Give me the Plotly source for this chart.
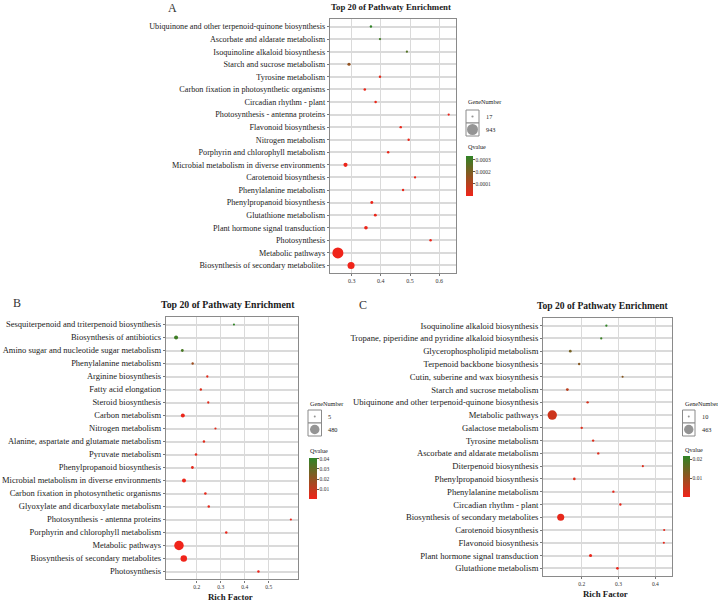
import math
import plotly.graph_objects as go

W, H = 718, 604

# ---------------- Panel A ----------------
a_pathways = [
    "Ubiquinone and other terpenoid-quinone biosynthesis",
    "Ascorbate and aldarate metabolism",
    "Isoquinoline alkaloid biosynthesis",
    "Starch and sucrose metabolism",
    "Tyrosine metabolism",
    "Carbon fixation in photosynthetic organisms",
    "Circadian rhythm - plant",
    "Photosynthesis - antenna proteins",
    "Flavonoid biosynthesis",
    "Nitrogen metabolism",
    "Porphyrin and chlorophyll metabolism",
    "Microbial metabolism in diverse environments",
    "Carotenoid biosynthesis",
    "Phenylalanine metabolism",
    "Phenylpropanoid biosynthesis",
    "Glutathione metabolism",
    "Plant hormone signal transduction",
    "Photosynthesis",
    "Metabolic pathways",
    "Biosynthesis of secondary metabolites",
]
a_rich = [0.366, 0.397, 0.489, 0.291, 0.397, 0.345, 0.382, 0.632, 0.468, 0.495,
          0.425, 0.279, 0.517, 0.476, 0.369, 0.381, 0.349, 0.570, 0.253, 0.298]
a_genes = [22, 20, 18, 50, 24, 28, 26, 19, 24, 22,
           24, 100, 20, 22, 40, 40, 70, 24, 943, 357]
a_qvalue = [0.00033, 0.00030, 0.00027, 0.00016, 0.00002, 0.00001, 0.00001, 0.000005, 0.00001, 0.00001,
            0.00001, 0.000005, 0.00001, 0.00001, 0.000005, 0.00001, 0.000005, 0.000005, 0.0000001, 0.0000001]
a_xticks = [0.3, 0.4, 0.5, 0.6]
a_size_breaks = [17, 943]
a_q_ticks = [0.0003, 0.0002, 0.0001]
a_q_ticktext = ["0.0003", "0.0002", "0.0001"]

# ---------------- Panel B ----------------
b_pathways = [
    "Sesquiterpenoid and triterpenoid biosynthesis",
    "Biosynthesis of antibiotics",
    "Amino sugar and nucleotide sugar metabolism",
    "Phenylalanine metabolism",
    "Arginine biosynthesis",
    "Fatty acid elongation",
    "Steroid biosynthesis",
    "Carbon metabolism",
    "Nitrogen metabolism",
    "Alanine, aspartate and glutamate metabolism",
    "Pyruvate metabolism",
    "Phenylpropanoid biosynthesis",
    "Microbial metabolism in diverse environments",
    "Carbon fixation in photosynthetic organisms",
    "Glyoxylate and dicarboxylate metabolism",
    "Photosynthesis - antenna proteins",
    "Porphyrin and chlorophyll metabolism",
    "Metabolic pathways",
    "Biosynthesis of secondary metabolites",
    "Photosynthesis",
]
b_rich = [0.355, 0.114, 0.140, 0.183, 0.244, 0.217, 0.248, 0.142, 0.278, 0.230,
          0.197, 0.182, 0.147, 0.236, 0.250, 0.592, 0.323, 0.126, 0.146, 0.457]
b_genes = [6, 56, 18, 10, 9, 10, 9, 56, 8, 12,
           14, 18, 55, 14, 12, 7, 12, 480, 196, 12]
b_qvalue = [0.041, 0.038, 0.036, 0.018, 0.004, 0.005, 0.004, 0.002, 0.004, 0.004,
            0.003, 0.003, 0.002, 0.003, 0.003, 0.002, 0.002, 0.001, 0.001, 0.001]
b_xticks = [0.2, 0.3, 0.4, 0.5]
b_size_breaks = [5, 480]
b_q_ticks = [0.04, 0.03, 0.02, 0.01]
b_q_ticktext = ["0.04", "0.03", "0.02", "0.01"]

# ---------------- Panel C ----------------
c_pathways = [
    "Isoquinoline alkaloid biosynthesis",
    "Tropane, piperidine and pyridine alkaloid biosynthesis",
    "Glycerophospholipid metabolism",
    "Terpenoid backbone biosynthesis",
    "Cutin, suberine and wax biosynthesis",
    "Starch and sucrose metabolism",
    "Ubiquinone and other terpenoid-quinone biosynthesis",
    "Metabolic pathways",
    "Galactose metabolism",
    "Tyrosine metabolism",
    "Ascorbate and aldarate metabolism",
    "Diterpenoid biosynthesis",
    "Phenylpropanoid biosynthesis",
    "Phenylalanine metabolism",
    "Circadian rhythm - plant",
    "Biosynthesis of secondary metabolites",
    "Carotenoid biosynthesis",
    "Flavonoid biosynthesis",
    "Plant hormone signal transduction",
    "Glutathione metabolism",
]
c_rich = [0.267, 0.253, 0.169, 0.193, 0.311, 0.161, 0.216, 0.120, 0.200, 0.231,
          0.245, 0.366, 0.180, 0.286, 0.305, 0.143, 0.424, 0.423, 0.224, 0.297]
c_genes = [14, 14, 24, 16, 12, 26, 16, 463, 16, 16,
           16, 12, 22, 16, 16, 247, 12, 12, 34, 24]
c_qvalue = [0.022, 0.021, 0.014, 0.012, 0.012, 0.006, 0.003, 0.004, 0.002, 0.002,
            0.002, 0.002, 0.002, 0.001, 0.001, 0.001, 0.001, 0.001, 0.0005, 0.0005]
c_xticks = [0.2, 0.3, 0.4]
c_size_breaks = [10, 463]
c_q_ticks = [0.02, 0.01]
c_q_ticktext = ["0.02", "0.01"]

# ---------------- styling helpers ----------------
COLORSCALE = [[0, "rgb(240,36,26)"], [1, "rgb(48,132,38)"]]
SERIF = "Liberation Serif"
TXT = "#1a1a1a"


def px(x):
    return x / W


def py(y):
    return 1 - y / H


def diam(g, breaks, dmin, dmax):
    lo, hi = math.sqrt(breaks[0]), math.sqrt(breaks[1])
    return dmin + (dmax - dmin) * (math.sqrt(g) - lo) / (hi - lo)


panels = [
    dict(p=a_pathways, x=a_rich, g=a_genes, q=a_qvalue, xt=a_xticks, sb=a_size_breaks,
         qt=a_q_ticks, qtt=a_q_ticktext, box=(330, 19, 456, 273), xr=[0.226, 0.657],
         dmin=2.2, dmax=11.0, lab=8.2, tick=6.0, cmin=0.0, cmax=0.00033,
         cb=(466, 156, 7, 40), key=(466, 110, 479, 136), keylab_x=484,
         gn=(466, 102), qv=(466, 147), title=(391, 7, 8.8), letter=("A", 172, 8), rf=None),
    dict(p=b_pathways, x=b_rich, g=b_genes, q=b_qvalue, xt=b_xticks, sb=b_size_breaks,
         qt=b_q_ticks, qtt=b_q_ticktext, box=(166, 316.7, 298.3, 579.3), xr=[0.072, 0.623],
         dmin=2.0, dmax=9.5, lab=8.5, tick=5.5, cmin=0.001, cmax=0.041,
         cb=(309, 457.7, 8, 40.6), key=(308, 410, 321.5, 436), keylab_x=326,
         gn=(308, 403), qv=(308, 450), title=(227.5, 304.3, 9.8), letter=("B", 17, 303),
         rf=(230.5, 597)),
    dict(p=c_pathways, x=c_rich, g=c_genes, q=c_qvalue, xt=c_xticks, sb=c_size_breaks,
         qt=c_q_ticks, qtt=c_q_ticktext, box=(543.3, 318, 672.3, 576), xr=[0.0957, 0.446],
         dmin=2.0, dmax=9.4, lab=8.65, tick=5.5, cmin=0.0, cmax=0.022,
         cb=(683, 455.7, 7, 41), key=(682.5, 410, 695, 436), keylab_x=700,
         gn=(682.5, 403), qv=(682.5, 449), title=(602.7, 305.3, 9.6), letter=("C", 363, 305),
         rf=(605, 594.3)),
]

fig = go.Figure()
annotations = []
shapes = []
layout = {}

for i, P in enumerate(panels):
    n = i + 1
    sfx = "" if n == 1 else str(n)
    ca = "coloraxis" + sfx
    x0, y0, x1, y1 = P["box"]
    sizes = [diam(g, P["sb"], P["dmin"], P["dmax"]) for g in P["g"]]
    fig.add_trace(go.Scatter(
        x=P["x"], y=P["p"], mode="markers",
        xaxis="x" + sfx, yaxis="y" + sfx,
        marker=dict(size=sizes, sizemode="diameter", color=P["q"], coloraxis=ca,
                    line=dict(width=0), opacity=1),
        showlegend=False, hoverinfo="x+y",
    ))
    nrow = len(P["p"])
    layout["xaxis" + sfx] = dict(
        domain=[px(x0), px(x1)], anchor="y" + sfx, range=P["xr"], automargin=False,
        tickvals=P["xt"], ticktext=[f"{v:.1f}" for v in P["xt"]],
        showgrid=True, gridcolor="#dadada", gridwidth=1.3,
        showline=True, mirror=True, linecolor="#8a8a8a", linewidth=1.4,
        ticks="outside", ticklen=2, tickcolor="#777", tickwidth=1,
        tickfont=dict(family=SERIF, size=P["tick"], color="#333"),
        zeroline=False, fixedrange=True,
    )
    layout["yaxis" + sfx] = dict(
        domain=[py(y1), py(y0)], anchor="x" + sfx, type="category", automargin=False,
        categoryorder="array", categoryarray=P["p"],
        range=[nrow - 0.4, -0.6],
        showgrid=True, gridcolor="#dadada", gridwidth=1.6,
        showline=True, mirror=True, linecolor="#8a8a8a", linewidth=1.4,
        ticks="outside", ticklen=2, tickcolor="#777", tickwidth=1,
        tickfont=dict(family=SERIF, size=P["lab"], color=TXT),
        zeroline=False, fixedrange=True,
    )
    cbx, cby, cbw, cbl = P["cb"]
    layout[ca] = dict(
        cmin=P["cmin"], cmax=P["cmax"], colorscale=COLORSCALE,
        colorbar=dict(
            x=px(cbx), xanchor="left", y=py(cby), yanchor="top", xref="paper", yref="paper",
            len=cbl, lenmode="pixels", thickness=cbw, thicknessmode="pixels",
            xpad=0, ypad=0, outlinewidth=0, borderwidth=0,
            tickvals=P["qt"], ticktext=P["qtt"], ticks="outside", ticklen=2,
            tickcolor="#555", tickfont=dict(family=SERIF, size=5.5, color="#333"),
        ),
    )

    # size legend keys
    kx0, ky0, kx1, ky1 = P["key"]
    kmid = (ky0 + ky1) / 2
    for (ta, tb) in [(ky0, kmid), (kmid, ky1)]:
        shapes.append(dict(type="rect", xref="paper", yref="paper",
                           x0=px(kx0), x1=px(kx1), y0=py(tb), y1=py(ta),
                           line=dict(color="#8a8a8a", width=1), fillcolor="white", layer="below"))
    kn = str(n + 3)
    layout["xaxis" + kn] = dict(domain=[px(kx0), px(kx1)], anchor="y" + kn, range=[0, 1],
                                visible=False, fixedrange=True, automargin=False)
    layout["yaxis" + kn] = dict(domain=[py(ky1), py(ky0)], anchor="x" + kn, range=[0, 2],
                                visible=False, fixedrange=True, automargin=False)
    fig.add_trace(go.Scatter(
        x=[0.5, 0.5], y=[1.5, 0.5], mode="markers", xaxis="x" + kn, yaxis="y" + kn,
        marker=dict(size=[diam(g, P["sb"], P["dmin"], P["dmax"]) for g in P["sb"]],
                    sizemode="diameter", color="#666666", line=dict(width=0)),
        showlegend=False, hoverinfo="skip",
    ))
    for j, g in enumerate(P["sb"]):
        yy = ky0 + (ky1 - ky0) * (0.25 + 0.5 * j)
        annotations.append(dict(text=str(g), x=px(P["keylab_x"]), y=py(yy), xref="paper", yref="paper",
                                xanchor="left", yanchor="middle", showarrow=False,
                                font=dict(family=SERIF, size=6.3, color=TXT)))
    annotations.append(dict(text="GeneNumber", x=px(P["gn"][0]), y=py(P["gn"][1]), xref="paper", yref="paper",
                            xanchor="left", yanchor="middle", showarrow=False,
                            font=dict(family=SERIF, size=6.2, color=TXT)))
    annotations.append(dict(text="Qvalue", x=px(P["qv"][0]), y=py(P["qv"][1]), xref="paper", yref="paper",
                            xanchor="left", yanchor="middle", showarrow=False,
                            font=dict(family=SERIF, size=6.2, color=TXT)))
    tx, ty, ts = P["title"]
    annotations.append(dict(text="<b>Top 20 of Pathwaty Enrichment</b>", x=px(tx), y=py(ty),
                            xref="paper", yref="paper", xanchor="center", yanchor="middle",
                            showarrow=False, font=dict(family=SERIF, size=ts, color=TXT)))
    lt, lx, ly = P["letter"]
    annotations.append(dict(text=lt, x=px(lx), y=py(ly), xref="paper", yref="paper",
                            xanchor="center", yanchor="middle", showarrow=False,
                            font=dict(family=SERIF, size=12, color="#333")))
    if P["rf"]:
        annotations.append(dict(text="<b>Rich Factor</b>", x=px(P["rf"][0]), y=py(P["rf"][1]),
                                xref="paper", yref="paper", xanchor="center", yanchor="middle",
                                showarrow=False, font=dict(family=SERIF, size=8.8, color=TXT)))

fig.update_layout(
    template="none",
    width=W, height=H, margin=dict(l=0, r=0, t=0, b=0, pad=0, autoexpand=False),
    paper_bgcolor="white", plot_bgcolor="white",
    annotations=annotations, shapes=shapes, showlegend=False,
    **layout,
)

# remove the browser's default 8px body margin so the figure sits at the page origin
fig.write_html("out.html", config={"displayModeBar": False},
               post_script="document.body.style.margin='0';document.body.style.overflow='hidden';")
